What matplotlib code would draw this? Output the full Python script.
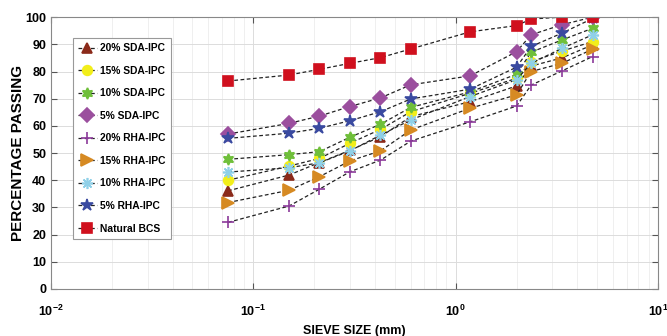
import numpy as np
import matplotlib
matplotlib.use('Agg')
import matplotlib.pyplot as plt

plt.rcParams['font.family'] = ['Liberation Sans', 'DejaVu Sans']

# sieve sizes (mm)
sieve = [0.075, 0.15, 0.212, 0.3, 0.425, 0.6, 1.18, 2.0, 2.36, 3.35, 4.75]

sda20 = [36.1, 41.9, 46.5, 51.0, 56.0, 63.4, 68.9, 74.7, 82.0, 85.0, 89.8]
sda15 = [40.0, 45.2, 48.0, 53.6, 58.7, 65.2, 72.0, 77.5, 83.6, 87.5, 91.0]
sda10 = [47.7, 49.4, 50.5, 55.8, 60.6, 66.8, 72.5, 79.0, 87.1, 91.6, 95.9]
sda5 = [57.0, 60.9, 63.6, 67.1, 70.3, 75.1, 78.4, 87.3, 93.5, 97.2, 100.0]
rha20 = [24.5, 30.5, 36.7, 43.1, 47.4, 54.4, 61.5, 67.3, 75.0, 80.2, 85.5]
rha15 = [31.8, 36.3, 41.3, 47.1, 50.8, 58.5, 66.5, 71.4, 80.0, 83.0, 88.2]
rha10 = [43.0, 44.6, 46.4, 50.8, 56.6, 62.2, 70.8, 77.0, 83.0, 88.5, 93.5]
rha5 = [55.4, 57.3, 59.1, 61.9, 65.2, 69.9, 73.5, 81.6, 89.2, 94.1, 99.5]
natural = [76.5, 78.7, 80.8, 83.0, 85.1, 88.3, 94.6, 96.9, 99.3, 100.0, 100.0]

series = [
    ('20% SDA-IPC', sda20, '^', '#8b2a1a', 7),
    ('15% SDA-IPC', sda15, 'o', '#f2ee1a', 7),
    ('10% SDA-IPC', sda10, (6, 1, 0), '#6fbf3a', 8),
    ('5% SDA-IPC', sda5, 'D', '#9b4f9e', 7),
    ('20% RHA-IPC', rha20, '+', '#8b3a9a', 9),
    ('15% RHA-IPC', rha15, '>', '#d68a23', 8),
    ('10% RHA-IPC', rha10, (8, 2, 0), '#8fd0e8', 8),
    ('5% RHA-IPC', rha5, '*', '#3a4aa0', 9),
    ('Natural BCS', natural, 's', '#d0101e', 6.5),
]

fig = plt.figure(figsize=(6.67, 3.36), dpi=100)
ax = fig.add_axes([0.0765, 0.140, 0.910, 0.809])

for label, y, m, c, ms in series:
    ax.plot(sieve, y, linestyle='--', color='#222222', linewidth=0.9,
            marker=m, markersize=ms, markerfacecolor=c, markeredgecolor=c,
            markeredgewidth=1.2, label=label, dashes=(3, 2))

ax.set_xscale('log')
ax.set_xlim(0.01, 10)
ax.set_ylim(0, 100)
ax.set_yticks(np.arange(0, 101, 10))
ax.grid(True, which='major', color='#dcdcdc', linewidth=0.7)
ax.grid(True, which='minor', color='#ececec', linewidth=0.6)
ax.set_axisbelow(True)
for s in ax.spines.values():
    s.set_color('#888888')
ax.tick_params(which='both', direction='in', top=True, right=True, colors='#555555',
               labelcolor='black', labelsize=9)
ax.tick_params(which='minor', length=0)
ax.tick_params(which='major', length=4)
for t in ax.get_xticklabels() + ax.get_yticklabels():
    t.set_fontweight('bold')
ax.tick_params(axis='x', pad=11)

ax.set_xlabel('SIEVE SIZE (mm)', fontsize=9, fontweight='bold', labelpad=4)
ax.set_ylabel('PERCENTAGE PASSING', fontsize=11, fontweight='bold', labelpad=0)

leg = ax.legend(loc='upper left', bbox_to_anchor=(0.036, 0.923),
                prop={'weight': 'bold', 'size': 7.4}, handlelength=1.8,
                labelspacing=1.22, borderpad=0.5, handletextpad=0.35,
                borderaxespad=0, fancybox=False, framealpha=1)
leg.get_frame().set_edgecolor('#999999')
leg.get_frame().set_linewidth(0.8)

fig.savefig('out.png', dpi=100)
